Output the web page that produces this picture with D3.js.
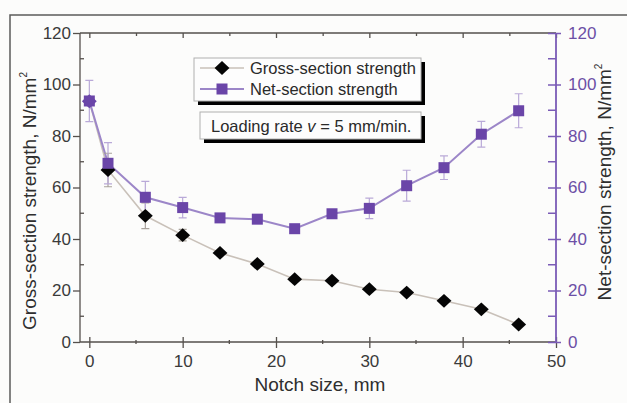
<!DOCTYPE html>
<html>
<head>
<meta charset="utf-8">
<script src="https://cdn.jsdelivr.net/npm/d3@7"></script>
<style>
  html, body { margin: 0; padding: 0; background: #fcfcfb; }
  svg { display: block; }
  text { font-family: "Liberation Sans", Arial, sans-serif; }
</style>
</head>
<body>
<svg id="chart" width="627" height="403"></svg>
<script>
// Notch size (mm)
const notchSize = [0, 2, 6, 10, 14, 18, 22, 26, 30, 34, 38, 42, 46];
// Gross-section strength (N/mm²) and its scatter
const grossStrength = [93.5, 66.8, 49.0, 41.5, 34.6, 30.3, 24.4, 23.8, 20.5, 19.2, 16.0, 12.7, 6.8];
const grossError    = [0, 6.5, 5.0, 2.2, 0.8, 0.8, 0.6, 0.6, 0.6, 0.6, 0.6, 0.6, 0.4];
// Net-section strength (N/mm²) and its scatter
const netStrength = [93.6, 69.4, 56.2, 52.2, 48.2, 47.7, 44.0, 49.8, 51.9, 60.7, 67.7, 80.7, 89.8];
const netError    = [8.0, 8.0, 6.2, 4.0, 0.8, 0.8, 0.8, 1.0, 4.0, 6.0, 4.6, 5.0, 6.6];
// Axis ticks
const xTicks = [0, 10, 20, 30, 40, 50];
const xMinor = [5, 15, 25, 35, 45];
const yTicks = [0, 20, 40, 60, 80, 100, 120];
const yMinor = [10, 30, 50, 70, 90, 110];

const svg = d3.select("#chart");
const x = d3.scaleLinear().domain([-1, 50]).range([80, 556]);
const y = d3.scaleLinear().domain([0, 120]).range([342, 33]);

const axisGray = "#55504c";
const purple = "#6a45a8";
const purpleAxis = "#7a5bb6";
const purpleLine = "#9c86c8";
const purpleErr = "#b9a9d8";
const grossLine = "#c9c1b9";

// outer frame (top and left edges)
svg.append("path")
  .attr("d", "M10,403 V15 H627")
  .attr("fill", "none").attr("stroke", "#5b5b5b").attr("stroke-width", 1.5);

// bottom axis
const axisB = svg.append("g").attr("transform", `translate(0,${y(0)})`)
  .call(d3.axisBottom(x).tickValues(xTicks).tickSize(6).tickPadding(7).tickFormat(d3.format("d")));
axisB.select(".domain").remove();
axisB.append("line").attr("x1", x(-1)).attr("x2", x(50)).attr("stroke", axisGray).attr("stroke-width", 1.3);
axisB.selectAll(".tick line").attr("y1", -5).attr("stroke", axisGray).attr("stroke-width", 1.3);
axisB.selectAll(".tick text").attr("font-size", 17).attr("fill", "#3a3a3a");
axisB.selectAll(".minor").data(xMinor).enter().append("line")
  .attr("x1", d => x(d)).attr("x2", d => x(d)).attr("y1", -2).attr("y2", 2)
  .attr("stroke", axisGray).attr("stroke-width", 1.3);

// top axis (ticks only, pointing inward)
const axisT = svg.append("g").attr("transform", `translate(0,${y(120)})`)
  .call(d3.axisTop(x).tickValues(xTicks.concat(xMinor)).tickSize(-5).tickFormat(""));
axisT.select(".domain").remove();
axisT.append("line").attr("x1", x(-1)).attr("x2", x(50)).attr("stroke", axisGray).attr("stroke-width", 1.3);
axisT.selectAll(".tick line").attr("stroke", axisGray).attr("stroke-width", 1.3)
  .attr("y2", d => xMinor.includes(d) ? 3 : 5);

// left axis
const axisL = svg.append("g").attr("transform", `translate(${x(-1)},0)`)
  .call(d3.axisLeft(y).tickValues(yTicks).tickSize(7).tickPadding(2).tickFormat(d3.format("d")));
axisL.select(".domain").remove();
axisL.append("line").attr("y1", y(0)).attr("y2", y(120)).attr("stroke", axisGray).attr("stroke-width", 1.3);
axisL.selectAll(".tick line").attr("stroke", axisGray).attr("stroke-width", 1.3);
axisL.selectAll(".tick text").attr("font-size", 17).attr("fill", "#3a3a3a");
axisL.selectAll(".minor").data(yMinor).enter().append("line")
  .attr("y1", d => y(d)).attr("y2", d => y(d)).attr("x1", 0).attr("x2", 4)
  .attr("stroke", axisGray).attr("stroke-width", 1.3);

// right axis (net-section)
const axisR = svg.append("g").attr("transform", `translate(${x(50)},0)`)
  .call(d3.axisRight(y).tickValues(yTicks).tickSize(5).tickPadding(7).tickFormat(d3.format("d")));
axisR.select(".domain").remove();
axisR.append("line").attr("y1", y(0)).attr("y2", y(120)).attr("stroke", purpleAxis).attr("stroke-width", 1.8);
axisR.selectAll(".tick line").attr("x1", -8).attr("stroke", purpleAxis).attr("stroke-width", 1.5);
axisR.selectAll(".tick text").attr("font-size", 17).attr("fill", "#6c4fa6");
axisR.selectAll(".minor").data(yMinor).enter().append("line")
  .attr("y1", d => y(d)).attr("y2", d => y(d)).attr("x1", -8).attr("x2", 0)
  .attr("stroke", purpleAxis).attr("stroke-width", 1.5);

// axis titles
svg.append("text").attr("x", 320).attr("y", 391).attr("text-anchor", "middle")
  .attr("font-size", 19).attr("fill", "#2e2e2e").text("Notch size, mm");

function yTitle(cx, cy, label) {
  const t = svg.append("text")
    .attr("transform", `translate(${cx},${cy}) rotate(-90)`)
    .attr("text-anchor", "middle").attr("font-size", 19).attr("fill", "#2e2e2e");
  t.append("tspan").text(label);
  t.append("tspan").attr("font-size", 10).attr("dy", -9).text("2");
}
yTitle(36, 201, "Gross-section strength, N/mm");
yTitle(611, 182, "Net-section strength, N/mm");

// series
const gross = notchSize.map((n, i) => ({ n, v: grossStrength[i], e: grossError[i] }));
const net = notchSize.map((n, i) => ({ n, v: netStrength[i], e: netError[i] }));

const line = d3.line().x(d => x(d.n)).y(d => y(d.v));

svg.append("path").datum(gross).attr("d", line)
  .attr("fill", "none").attr("stroke", grossLine).attr("stroke-width", 1.6);
svg.append("path").datum(net).attr("d", line)
  .attr("fill", "none").attr("stroke", purpleLine).attr("stroke-width", 2);

function errorBars(data, color) {
  const g = svg.append("g").attr("stroke", color).attr("stroke-width", 1.2).attr("fill", "none");
  data.filter(d => d.e > 0).forEach(d => {
    const cx = x(d.n), t = y(d.v + d.e), b = y(d.v - d.e);
    g.append("path").attr("d", `M${cx},${t}V${b}M${cx - 4},${t}H${cx + 4}M${cx - 4},${b}H${cx + 4}`);
  });
}
errorBars(gross, "#a9a29c");
errorBars(net, purpleErr);

// rhombus marker, slightly wider than tall
const rhombus = {
  draw(ctx, size) {
    const r = Math.sqrt(size) / 2;
    ctx.moveTo(-r * 1.08, 0);
    ctx.lineTo(0, -r);
    ctx.lineTo(r * 1.08, 0);
    ctx.lineTo(0, r);
    ctx.closePath();
  }
};
const diamond = d3.symbol().type(rhombus).size(190);

// at zero notch both sections coincide; that marker takes the net colour
svg.append("g").selectAll("path").data(gross).enter().append("path")
  .attr("d", diamond)
  .attr("transform", d => `translate(${x(d.n)},${y(d.v)})`)
  .attr("fill", d => d.n === 0 ? purple : "#050505");

svg.append("g").selectAll("rect").data(net).enter().append("rect")
  .attr("x", d => x(d.n) - 5.5).attr("y", d => y(d.v) - 5.5)
  .attr("width", 11).attr("height", 11).attr("fill", purple);

// legend box
function shadowBox(x0, y0, w, h) {
  svg.append("rect").attr("x", x0 + 4).attr("y", y0 + 4).attr("width", w).attr("height", h).attr("fill", "#000");
  svg.append("rect").attr("x", x0).attr("y", y0).attr("width", w).attr("height", h)
    .attr("fill", "#fdfdfd").attr("stroke", "#b0b0b0").attr("stroke-width", 1);
}
shadowBox(194, 58, 227, 43);
const leg = svg.append("g");
leg.append("line").attr("x1", 200).attr("x2", 244).attr("y1", 68).attr("y2", 68)
  .attr("stroke", grossLine).attr("stroke-width", 1.6);
leg.append("path").attr("d", diamond).attr("transform", "translate(222,68)").attr("fill", "#050505");
leg.append("text").attr("x", 250).attr("y", 74).attr("font-size", 16.5).attr("fill", "#2a2a2a").text("Gross-section strength");
leg.append("line").attr("x1", 200).attr("x2", 244).attr("y1", 89).attr("y2", 89)
  .attr("stroke", purpleLine).attr("stroke-width", 2);
leg.append("rect").attr("x", 216.5).attr("y", 83.5).attr("width", 11).attr("height", 11).attr("fill", purple);
leg.append("text").attr("x", 250).attr("y", 95).attr("font-size", 16.5).attr("fill", "#2a2a2a").text("Net-section strength");

// test condition note
shadowBox(200, 112, 221, 27);
const note = svg.append("text").attr("x", 211).attr("y", 132).attr("font-size", 16.5).attr("fill", "#2a2a2a");
note.append("tspan").text("Loading rate ");
note.append("tspan").attr("font-style", "italic").text("v");
note.append("tspan").text(" = 5 mm/min.");
</script>
</body>
</html>
